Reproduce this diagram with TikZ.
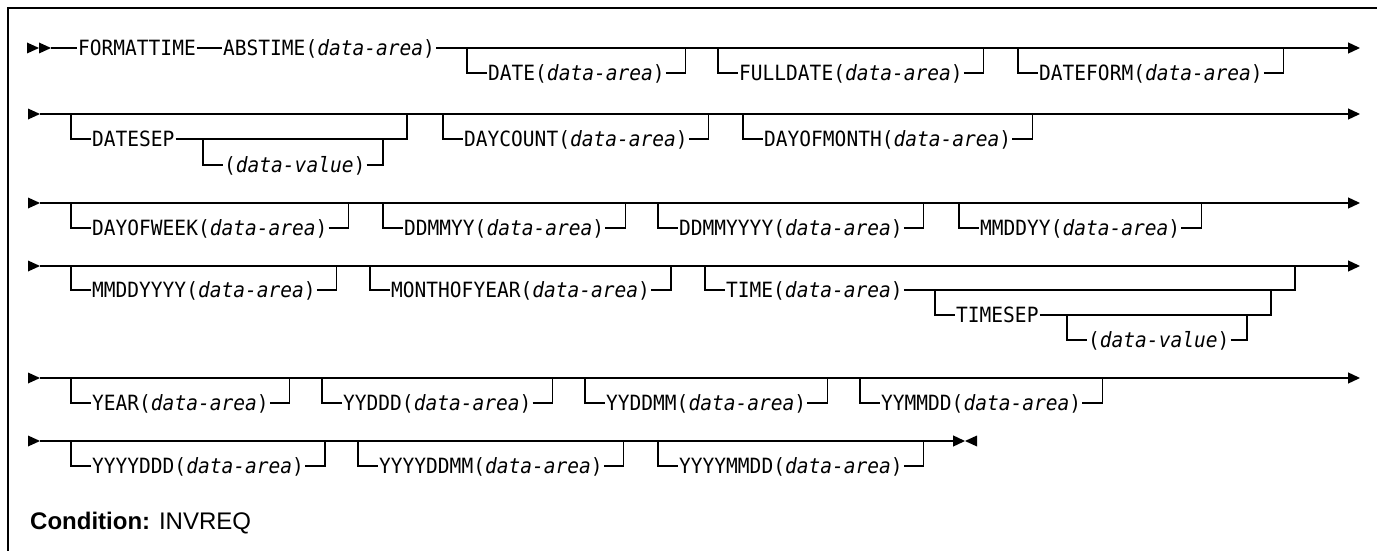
\documentclass[tikz,border=0pt]{standalone}
\usepackage{fontspec}
\setmonofont[FakeStretch=0.93]{DejaVu Sans Mono}
\newfontfamily\condfont{Liberation Sans}
\usetikzlibrary{arrows.meta}
\newcommand\rtri[2]{\fill (#1-12,#2-5.5) -- (#1,#2) -- (#1-12,#2+5.5) -- cycle;}
\newcommand\ltri[2]{\fill (#1+12,#2-5.5) -- (#1,#2) -- (#1+12,#2+5.5) -- cycle;}
% #1 name, #2 x of left bar, #3 main line y, #4 text y, #5 text
\newcommand\optbox[5]{%
  \node[lbl] (#1) at (#2+20,#4) {#5};
  \draw[ln] (#2,#3) |- (#1.west);
  \path (#1.east) ++(20,0) coordinate (#1-r);
  \draw[ln] (#1.east) -- (#1-r) -- (#1-r |- 0,#3);
}
\begin{document}
\begin{tikzpicture}[x=1pt,y=-1pt,
  ln/.style={line width=1.3pt},
  endarrow/.style={line width=1.3pt,-{Triangle[length=12pt,width=11pt]}},
  lbl/.style={font=\fontsize{21}{25}\selectfont\ttfamily, inner sep=0pt, inner xsep=1pt, anchor=west, text height=16pt, text depth=1pt}]
\useasboundingbox (0,0) rectangle (1377,551);
\draw[line width=1.8pt] (8,551) -- (8,8) -- (1377,8);

% Row 1
\rtri{39}{48}\rtri{51}{48}
\coordinate (s1) at (51,48);
\coordinate (e1) at (1360,48);
\node[lbl] (fmt) at (77,48) {FORMATTIME};
\node[lbl] (abs) at (222,48) {ABSTIME(\textit{data-area})};
\draw[ln] (s1) -- (fmt);
\draw[ln] (fmt) -- (abs);
\draw[endarrow] (abs) -- (e1);
\optbox{date}{467}{48}{73}{DATE(\textit{data-area})}
\optbox{fulldate}{718}{48}{73}{FULLDATE(\textit{data-area})}
\optbox{dateform}{1018}{48}{73}{DATEFORM(\textit{data-area})}

% Row 2
\rtri{40}{114}
\coordinate (s2) at (40,114);
\coordinate (e2) at (1360,114);
\draw[endarrow] (s2) -- (e2);
\node[lbl] (datesep) at (91,139) {DATESEP};
\draw[ln] (71,114) |- (datesep.west);
\coordinate (dsr) at (407,139);
\draw[ln] (datesep.east) -- (dsr) -- (dsr |- s2);
\node[lbl] (dsval) at (223,165) {(\textit{data-value})};
\draw[ln] (203,139) |- (dsval.west);
\draw[ln] (dsval.east) -| (383,139);
\optbox{daycount}{443}{114}{139}{DAYCOUNT(\textit{data-area})}
\optbox{dayofmonth}{743}{114}{139}{DAYOFMONTH(\textit{data-area})}

% Row 3
\rtri{40}{203}
\coordinate (s3) at (40,203);
\coordinate (e3) at (1360,203);
\draw[endarrow] (s3) -- (e3);
\optbox{dayofweek}{71}{203}{228}{DAYOFWEEK(\textit{data-area})}
\optbox{ddmmyy}{383}{203}{228}{DDMMYY(\textit{data-area})}
\optbox{ddmmyyyy}{658}{203}{228}{DDMMYYYY(\textit{data-area})}
\optbox{mmddyy}{959}{203}{228}{MMDDYY(\textit{data-area})}

% Row 4
\rtri{40}{266}
\coordinate (s4) at (40,266);
\coordinate (e4) at (1360,266);
\draw[endarrow] (s4) -- (e4);
\optbox{mmddyyyy}{71}{266}{290}{MMDDYYYY(\textit{data-area})}
\optbox{monthofyear}{370}{266}{290}{MONTHOFYEAR(\textit{data-area})}
\node[lbl] (time) at (725,290) {TIME(\textit{data-area})};
\draw[ln] (705,266) |- (time.west);
\draw[ln] (time.east) -| (1295,266);
\node[lbl] (timesep) at (955,315) {TIMESEP};
\draw[ln] (935,290) |- (timesep.west);
\draw[ln] (timesep.east) -| (1271,290);
\node[lbl] (tsval) at (1087,340) {(\textit{data-value})};
\draw[ln] (1067,315) |- (tsval.west);
\draw[ln] (tsval.east) -| (1247,315);

% Row 5
\rtri{40}{378}
\coordinate (s5) at (40,378);
\coordinate (e5) at (1360,378);
\draw[endarrow] (s5) -- (e5);
\optbox{year}{71}{378}{403}{YEAR(\textit{data-area})}
\optbox{yyddd}{322}{378}{403}{YYDDD(\textit{data-area})}
\optbox{yyddmm}{585}{378}{403}{YYDDMM(\textit{data-area})}
\optbox{yymmdd}{860}{378}{403}{YYMMDD(\textit{data-area})}

% Row 6
\rtri{40}{441}
\coordinate (s6) at (40,441);
\coordinate (e6) at (965,441);
\draw[endarrow] (s6) -- (e6);
\ltri{965}{441}
\optbox{yyyyddd}{71}{441}{466}{YYYYDDD(\textit{data-area})}
\optbox{yyyyddmm}{358}{441}{466}{YYYYDDMM(\textit{data-area})}
\optbox{yyyymmdd}{658}{441}{466}{YYYYMMDD(\textit{data-area})}

% Condition
\node[anchor=base west, inner sep=0pt, font=\fontsize{24}{28}\selectfont\condfont] (cond) at (30,529) {\textbf{Condition:} INVREQ};
\end{tikzpicture}
\end{document}
